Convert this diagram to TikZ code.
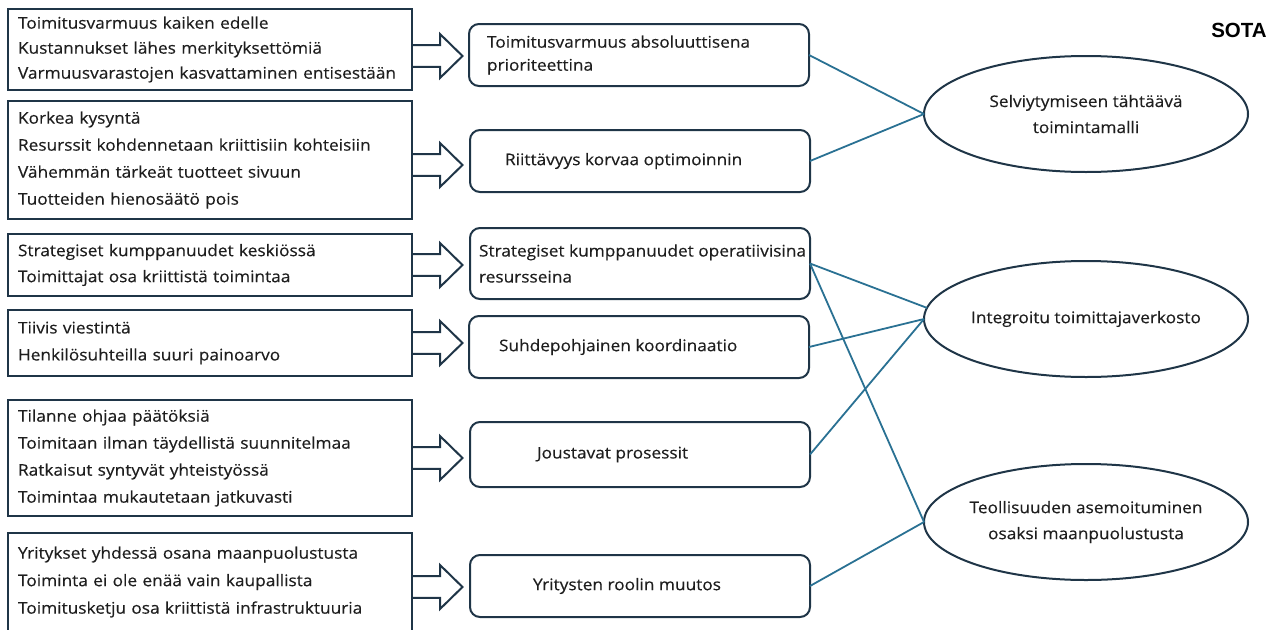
\documentclass[tikz,border=0pt]{standalone}
\usepackage{fontspec}
\setmainfont{Open Sans}[FakeStretch=1.08, FakeBold=0.35]
\newfontfamily\titlefont{Liberation Sans}
\usetikzlibrary{shapes.geometric}
\definecolor{boxline}{HTML}{1F3547}
\definecolor{linkline}{HTML}{2A7193}
\definecolor{txt}{HTML}{1E1E1E}

\tikzset{
  pics/barrow/.style={code={
    \draw[draw=boxline, line width=2pt, line join=miter]
      (0,-10.8) -- (28,-10.8) -- (28,-22) -- (50.5,0) -- (28,22) -- (28,10.8) -- (0,10.8);
  }}
}

\begin{document}
\begin{tikzpicture}[x=1pt, y=-1pt,
  every node/.style={text=txt, outer sep=0pt},
  leftbox/.style={draw=boxline, line width=2pt, rectangle, anchor=north west,
    inner xsep=10pt, inner ysep=0pt, align=left, text width=384pt,
    font=\fontsize{16}{27}\selectfont},
  rbox/.style={draw=boxline, line width=2pt, rectangle, rounded corners=10pt,
    anchor=north west, minimum width=340pt, minimum height=62pt},
  rtext/.style={anchor=west, align=left, inner sep=0pt,
    font=\fontsize{16}{24}\selectfont},
  goal/.style={draw=boxline, line width=2pt, ellipse, minimum width=324pt,
    minimum height=116pt, align=center, inner xsep=-8pt, inner ysep=0pt,
    font=\fontsize{16}{26}\selectfont},
  link/.style={draw=linkline, line width=1.8pt}
]
\useasboundingbox (0,0) rectangle (1276,629);
\clip (0,0) rectangle (1276,629);

% left column: observations
\node[leftbox, minimum height=81pt, font=\fontsize{16}{25}\selectfont] (L1) at (8,9)
  {Toimitusvarmuus kaiken edelle\\Kustannukset lähes merkityksettömiä\\Varmuusvarastojen kasvattaminen entisestään};
\node[leftbox, minimum height=118pt] (L2) at (8,101)
  {Korkea kysyntä\\Resurssit kohdennetaan kriittisiin kohteisiin\\Vähemmän tärkeät tuotteet sivuun\\Tuotteiden hienosäätö pois};
\node[leftbox, minimum height=62pt, font=\fontsize{16}{26}\selectfont] (L3) at (8,234)
  {Strategiset kumppanuudet keskiössä\\Toimittajat osa kriittistä toimintaa};
\node[leftbox, minimum height=66pt] (L4) at (8,310)
  {Tiivis viestintä\\Henkilösuhteilla suuri painoarvo};
\node[leftbox, minimum height=116pt] (L5) at (8,400)
  {Tilanne ohjaa päätöksiä\\Toimitaan ilman täydellistä suunnitelmaa\\Ratkaisut syntyvät yhteistyössä\\Toimintaa mukautetaan jatkuvasti};
\node[leftbox, minimum height=98pt, font=\fontsize{16}{27.5}\selectfont] (L6) at (8,533)
  {Yritykset yhdessä osana maanpuolustusta\\Toiminta ei ole enää vain kaupallista\\Toimitusketju osa kriittistä infrastruktuuria};

% block arrows
\pic at (L1.east |- 0,56) {barrow};
\pic at (L2.east |- 0,165) {barrow};
\pic at (L3.east |- 0,265) {barrow};
\pic at (L4.east |- 0,343) {barrow};
\pic at (L5.east |- 0,458) {barrow};
\pic at (L6.east |- 0,587) {barrow};

% middle column: themes
\node[rbox] (R1) at (469,24) {};
\node[rbox] (R2) at (470,130) {};
\node[rbox, minimum height=71pt] (R3) at (470,228) {};
\node[rbox] (R4) at (469,316) {};
\node[rbox, minimum height=65pt] (R5) at (470,422) {};
\node[rbox] (R6) at (470,555) {};

\node[rtext, font=\fontsize{16}{23}\selectfont] (R1t) at ([xshift=18pt]R1.west) {Toimitusvarmuus absoluuttisena\\prioriteettina};
\node[rtext] (R2t) at ([xshift=35pt]R2.west) {Riittävyys korvaa optimoinnin};
\node[rtext, font=\fontsize{16}{26}\selectfont] (R3t) at ([xshift=9pt]R3.west) {Strategiset kumppanuudet operatiivisina\\resursseina};
\node[rtext] (R4t) at ([xshift=30pt]R4.west) {Suhdepohjainen koordinaatio};
\node[rtext] (R5t) at ([xshift=67pt]R5.west) {Joustavat prosessit};
\node[rtext] (R6t) at ([xshift=63pt]R6.west) {Yritysten roolin muutos};

% right column: outcomes
\node[goal] (E1) at (1086,114) {Selviytymiseen tähtäävä\\toimintamalli};
\node[goal] (E2) at (1086,319) {Integroitu toimittajaverkosto};
\node[goal] (E3) at (1086,522) {Teollisuuden asemoituminen\\osaksi maanpuolustusta};

\node[font=\titlefont\bfseries\fontsize{20.5}{21}\selectfont, text=black] (sota) at (1239,30) {SOTA};

% links from themes to outcomes
\draw[link] (R1.east) -- (E1.west);
\draw[link] (R2.east) -- (E1.west);
\draw[link] (R3.east) -- (E2.176);
\draw[link] (R3.east) -- (E3.west);
\draw[link] (R4.east) -- (E2.west);
\draw[link] (R5.east) -- (E2.west);
\draw[link] (R6.east) -- (E3.west);
\end{tikzpicture}
\end{document}
